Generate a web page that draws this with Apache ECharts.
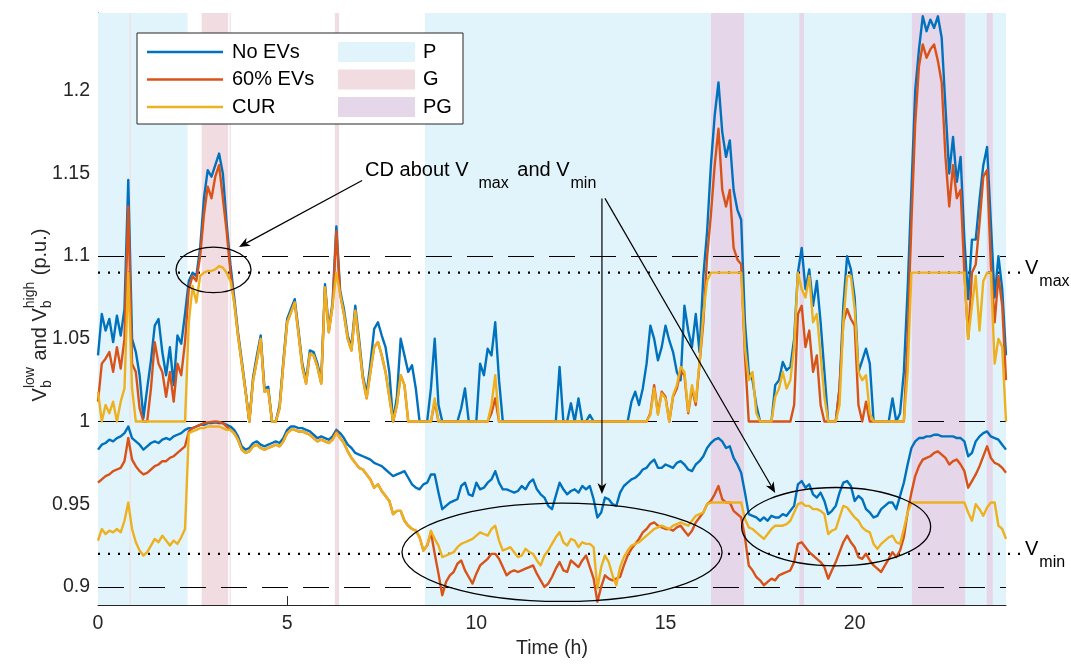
<!DOCTYPE html>
<html><head><meta charset="utf-8">
<script src="https://cdn.jsdelivr.net/npm/echarts@6/dist/echarts.min.js"></script>
<style>html,body{margin:0;padding:0;background:#fff}#c{width:1071px;height:664px}</style>
</head><body><div id="c"></div>
<script>
// ---------------- DATA ----------------
const hours = Array.from({length: 241}, (_, i) => i / 10); // 0..24 h, 0.1 h step
const seriesNames = ['No EVs', '60% EVs', 'CUR'];
const bandNames = ['P', 'G', 'PG'];
const xTicks = [0, 5, 10, 15, 20];
const yTicks = [0.9, 0.95, 1, 1.05, 1.1, 1.15, 1.2];
const dashedLimits = [0.9, 1.0, 1.1];
const vMax = 1.09, vMin = 0.92;
const bandsP = [[0, 2.37], [8.64, 16.2], [17.08, 24]];
const bandsG = [[0.835, 0.865], [2.74, 3.44], [3.48, 3.51], [6.26, 6.37]];
const bandsPG = [[16.2, 17.08], [18.54, 18.66], [21.51, 22.92], [23.49, 23.65]];

const noEVsHigh = [
1.04,1.065,1.055,1.062,1.048,1.064,1.052,1.068,1.146,1.05,
1.042,1.028,1.002,1.02,1.037,1.058,1.062,1.042,1.028,1.045,
1.022,1.052,1.047,1.065,1.085,1.09,1.088,1.105,1.135,1.152,
1.148,1.155,1.162,1.15,1.12,1.095,1.075,1.054,1.037,1.019,
1.0,1.027,1.04,1.052,1.02,1.021,1.0,1.0,1.01,1.037,
1.062,1.068,1.074,1.055,1.035,1.025,1.043,1.042,1.035,1.025,
1.083,1.056,1.072,1.118,1.079,1.068,1.052,1.045,1.07,1.05,
1.028,1.017,1.035,1.056,1.06,1.052,1.045,1.03,1.0,1.015,
1.05,1.04,1.03,1.034,1.02,1.0,1.0,1.0,1.02,1.05,
1.01,1.0,1.0,1.0,1.0,1.0,1.008,1.02,1.0,1.0,
1.0,1.035,1.028,1.044,1.04,1.06,1.025,1.0,1.0,1.0,
1.0,1.0,1.0,1.0,1.0,1.0,1.0,1.0,1.0,1.0,
1.0,1.0,1.033,1.0,1.0,1.011,1.0,1.014,1.0,1.0,
1.004,1.0,1.0,1.0,1.0,1.0,1.0,1.0,1.0,1.0,
1.0,1.012,1.018,1.01,1.02,1.035,1.058,1.05,1.037,1.045,
1.058,1.049,1.042,1.03,1.025,1.07,1.055,1.045,1.065,1.042,
1.088,1.115,1.155,1.185,1.205,1.175,1.16,1.17,1.14,1.128,
1.122,1.06,1.03,1.025,1.01,1.0,1.0,1.0,1.0,1.022,
1.025,1.036,1.031,1.033,1.05,1.09,1.105,1.08,1.092,1.07,
1.085,1.06,1.03,1.0,1.0,1.0,1.02,1.07,1.1,1.092,
1.075,1.03,1.037,1.044,1.035,1.0,1.0,1.0,1.0,1.0,
1.014,1.0,1.005,1.03,1.08,1.14,1.2,1.225,1.245,1.236,
1.243,1.238,1.245,1.232,1.19,1.15,1.172,1.145,1.16,1.11,
1.074,1.11,1.11,1.134,1.155,1.166,1.12,1.075,1.1,1.08,
1.04];

const ev60High = [
1.012,1.035,1.038,1.042,1.03,1.045,1.032,1.05,1.13,1.035,
1.03,1.008,1.0,1.0,1.02,1.048,1.035,1.03,1.015,1.03,
1.012,1.035,1.028,1.048,1.08,1.088,1.085,1.1,1.125,1.142,
1.135,1.148,1.155,1.135,1.115,1.09,1.072,1.052,1.035,1.018,
1.0,1.025,1.037,1.05,1.018,1.019,1.0,1.0,1.008,1.035,
1.06,1.066,1.072,1.053,1.033,1.023,1.041,1.04,1.033,1.023,
1.081,1.054,1.07,1.115,1.077,1.065,1.05,1.043,1.067,1.047,
1.026,1.014,1.03,1.045,1.048,1.04,1.03,1.015,1.0,1.01,
1.028,1.022,1.0,1.0,1.0,1.0,1.0,1.0,1.0,1.012,
1.0,1.0,1.0,1.0,1.0,1.0,1.0,1.0,1.0,1.0,
1.0,1.0,1.0,1.0,1.005,1.014,1.0,1.0,1.0,1.0,
1.0,1.0,1.0,1.0,1.0,1.0,1.0,1.0,1.0,1.0,
1.0,1.0,1.0,1.0,1.0,1.0,1.0,1.0,1.0,1.0,
1.0,1.0,1.0,1.0,1.0,1.0,1.0,1.0,1.0,1.0,
1.0,1.0,1.0,1.0,1.0,1.0,1.005,1.022,1.005,1.018,
1.015,1.0,1.015,1.02,1.03,1.028,1.005,1.02,1.01,1.035,
1.06,1.1,1.125,1.155,1.177,1.14,1.13,1.14,1.105,1.098,
1.095,1.04,1.0,1.0,1.0,1.0,1.0,1.0,1.0,1.0,
1.0,1.0,1.0,1.0,1.01,1.065,1.07,1.045,1.055,1.03,
1.04,1.01,1.0,1.0,1.0,1.0,1.02,1.06,1.068,1.062,
1.058,1.01,1.0,1.012,1.0,1.0,1.0,1.0,1.0,1.0,
1.0,1.0,1.0,1.0,1.05,1.12,1.18,1.215,1.228,1.22,
1.225,1.228,1.218,1.205,1.16,1.13,1.155,1.135,1.14,1.09,
1.05,1.09,1.095,1.12,1.148,1.152,1.095,1.06,1.088,1.07,
1.025];

const curHigh = [
1.018,1.0,1.01,1.005,1.012,1.0,1.012,1.02,1.09,1.02,
1.0,1.0,1.0,1.0,1.0,1.0,1.0,1.0,1.0,1.0,
1.0,1.0,1.0,1.0,1.06,1.082,1.072,1.088,1.09,1.091,
1.091,1.092,1.094,1.093,1.09,1.085,1.072,1.052,1.035,1.018,
1.0,1.025,1.037,1.05,1.018,1.019,1.0,1.0,1.008,1.035,
1.06,1.066,1.072,1.053,1.033,1.023,1.041,1.04,1.033,1.023,
1.081,1.054,1.07,1.09,1.077,1.065,1.05,1.043,1.067,1.047,
1.026,1.014,1.03,1.045,1.048,1.04,1.03,1.015,1.0,1.01,
1.028,1.022,1.0,1.0,1.0,1.0,1.0,1.0,1.0,1.014,
1.0,1.0,1.0,1.0,1.0,1.0,1.0,1.0,1.0,1.0,
1.0,1.0,1.0,1.0,1.01,1.028,1.0,1.0,1.0,1.0,
1.0,1.0,1.0,1.0,1.0,1.0,1.0,1.0,1.0,1.0,
1.0,1.0,1.0,1.0,1.0,1.0,1.0,1.0,1.0,1.0,
1.0,1.0,1.0,1.0,1.0,1.0,1.0,1.0,1.0,1.0,
1.0,1.0,1.0,1.0,1.0,1.0,1.004,1.02,1.004,1.017,
1.014,1.0,1.016,1.022,1.033,1.03,1.006,1.022,1.012,1.036,
1.065,1.085,1.09,1.09,1.09,1.09,1.09,1.09,1.09,1.09,
1.09,1.045,1.025,1.03,1.005,1.0,1.0,1.0,1.0,1.015,
1.02,1.03,1.02,1.025,1.045,1.09,1.08,1.075,1.088,1.06,
1.065,1.04,1.015,1.0,1.0,1.0,1.01,1.06,1.088,1.088,
1.068,1.03,1.025,1.028,1.005,1.0,1.0,1.0,1.0,1.0,
1.0,1.0,1.0,1.0,1.03,1.09,1.09,1.09,1.09,1.09,
1.09,1.09,1.09,1.09,1.09,1.09,1.09,1.09,1.09,1.09,
1.05,1.07,1.088,1.055,1.085,1.09,1.09,1.035,1.05,1.045,
1.0];

const noEVsLow = [
0.983,0.986,0.987,0.989,0.988,0.99,0.991,0.993,0.997,0.99,
0.988,0.986,0.983,0.985,0.987,0.988,0.987,0.989,0.99,0.989,
0.991,0.992,0.993,0.995,0.996,0.996,0.997,0.998,0.998,0.999,
0.999,0.9995,0.999,0.999,0.998,0.997,0.995,0.991,0.985,0.983,
0.984,0.987,0.988,0.986,0.985,0.986,0.987,0.988,0.987,0.99,
0.995,0.997,0.997,0.996,0.996,0.995,0.994,0.992,0.99,0.991,
0.99,0.989,0.991,0.995,0.993,0.99,0.986,0.984,0.981,0.98,
0.979,0.978,0.977,0.975,0.974,0.973,0.971,0.969,0.967,0.968,
0.969,0.97,0.966,0.962,0.96,0.959,0.962,0.963,0.968,0.968,
0.957,0.947,0.949,0.951,0.952,0.953,0.961,0.963,0.956,0.955,
0.963,0.959,0.96,0.963,0.965,0.97,0.963,0.959,0.959,0.958,
0.957,0.958,0.961,0.959,0.963,0.965,0.959,0.956,0.954,0.949,
0.947,0.955,0.963,0.959,0.956,0.958,0.959,0.957,0.961,0.959,
0.961,0.953,0.942,0.945,0.954,0.953,0.95,0.949,0.957,0.961,
0.963,0.965,0.966,0.968,0.971,0.972,0.975,0.977,0.972,0.972,
0.974,0.973,0.972,0.975,0.976,0.974,0.971,0.97,0.974,0.976,
0.979,0.984,0.987,0.989,0.99,0.988,0.984,0.985,0.978,0.974,
0.969,0.957,0.944,0.943,0.942,0.94,0.942,0.94,0.943,0.942,
0.942,0.944,0.943,0.946,0.949,0.962,0.964,0.96,0.962,0.956,
0.954,0.957,0.952,0.944,0.946,0.949,0.957,0.963,0.964,0.961,
0.952,0.955,0.953,0.947,0.945,0.942,0.943,0.947,0.949,0.951,
0.951,0.947,0.955,0.963,0.974,0.984,0.988,0.99,0.99,0.991,
0.991,0.992,0.992,0.991,0.991,0.991,0.991,0.99,0.99,0.988,
0.979,0.981,0.988,0.991,0.993,0.994,0.991,0.99,0.989,0.986,
0.983];

const ev60Low = [
0.963,0.965,0.967,0.968,0.97,0.971,0.972,0.976,0.99,0.977,
0.973,0.97,0.968,0.969,0.971,0.973,0.974,0.976,0.976,0.978,
0.979,0.981,0.983,0.985,0.994,0.996,0.997,0.998,0.999,0.9995,
0.9998,1.0,0.9998,0.999,0.997,0.995,0.993,0.989,0.983,0.981,
0.982,0.985,0.986,0.984,0.983,0.984,0.985,0.986,0.985,0.988,
0.993,0.995,0.995,0.994,0.994,0.993,0.992,0.99,0.988,0.989,
0.988,0.987,0.989,0.994,0.99,0.987,0.982,0.978,0.975,0.972,
0.971,0.968,0.965,0.96,0.962,0.958,0.955,0.952,0.944,0.946,
0.946,0.94,0.937,0.935,0.934,0.93,0.922,0.925,0.933,0.92,
0.908,0.895,0.903,0.907,0.909,0.914,0.916,0.91,0.906,0.902,
0.908,0.913,0.915,0.917,0.92,0.92,0.917,0.912,0.907,0.909,
0.91,0.909,0.91,0.911,0.912,0.913,0.908,0.904,0.9,0.902,
0.906,0.911,0.915,0.91,0.909,0.916,0.914,0.912,0.916,0.919,
0.912,0.905,0.891,0.9,0.907,0.905,0.904,0.905,0.906,0.913,
0.919,0.923,0.926,0.929,0.933,0.935,0.938,0.939,0.937,0.936,
0.935,0.935,0.934,0.936,0.937,0.934,0.931,0.934,0.939,0.942,
0.945,0.95,0.952,0.956,0.961,0.953,0.951,0.951,0.946,0.944,
0.942,0.93,0.913,0.91,0.906,0.904,0.901,0.903,0.905,0.904,
0.907,0.908,0.909,0.91,0.915,0.926,0.927,0.924,0.921,0.919,
0.917,0.915,0.912,0.905,0.91,0.915,0.921,0.927,0.931,0.927,
0.924,0.918,0.917,0.92,0.916,0.913,0.911,0.909,0.913,0.917,
0.921,0.918,0.922,0.93,0.945,0.957,0.967,0.973,0.977,0.978,
0.979,0.981,0.982,0.98,0.978,0.974,0.976,0.977,0.974,0.97,
0.96,0.964,0.968,0.973,0.979,0.985,0.978,0.975,0.974,0.972,
0.969];

const curLow = [
0.928,0.935,0.932,0.934,0.933,0.935,0.933,0.94,0.951,0.935,
0.927,0.922,0.919,0.921,0.925,0.929,0.927,0.931,0.928,0.925,
0.928,0.926,0.93,0.935,0.993,0.994,0.995,0.996,0.996,0.997,
0.997,0.997,0.997,0.996,0.995,0.995,0.993,0.989,0.983,0.981,
0.982,0.985,0.986,0.984,0.983,0.984,0.985,0.986,0.985,0.988,
0.993,0.995,0.995,0.994,0.994,0.993,0.992,0.99,0.988,0.989,
0.988,0.987,0.989,0.993,0.99,0.987,0.982,0.978,0.975,0.972,
0.971,0.968,0.965,0.96,0.962,0.958,0.955,0.952,0.944,0.946,
0.946,0.94,0.937,0.935,0.934,0.93,0.922,0.925,0.934,0.929,
0.925,0.918,0.919,0.92,0.921,0.924,0.926,0.927,0.928,0.929,
0.931,0.933,0.932,0.931,0.935,0.937,0.928,0.922,0.923,0.924,
0.921,0.918,0.919,0.923,0.921,0.92,0.916,0.913,0.919,0.922,
0.926,0.93,0.933,0.927,0.925,0.929,0.928,0.924,0.927,0.926,
0.926,0.924,0.899,0.912,0.919,0.915,0.907,0.901,0.912,0.918,
0.922,0.925,0.926,0.927,0.929,0.931,0.933,0.935,0.936,0.937,
0.936,0.935,0.937,0.938,0.939,0.938,0.937,0.94,0.943,0.944,
0.945,0.95,0.951,0.951,0.951,0.951,0.951,0.951,0.951,0.951,
0.951,0.941,0.936,0.935,0.933,0.931,0.929,0.932,0.935,0.937,
0.937,0.937,0.938,0.94,0.945,0.95,0.951,0.949,0.949,0.947,
0.947,0.946,0.944,0.932,0.934,0.935,0.942,0.949,0.948,0.945,
0.942,0.94,0.936,0.934,0.933,0.926,0.923,0.926,0.928,0.93,
0.931,0.927,0.926,0.935,0.945,0.951,0.951,0.951,0.951,0.951,
0.951,0.951,0.951,0.951,0.951,0.951,0.951,0.951,0.951,0.951,
0.945,0.94,0.95,0.947,0.943,0.948,0.951,0.951,0.937,0.935,
0.929];

// ---------------- STYLE ----------------
const FONT = '"Liberation Sans", Arial, Helvetica, sans-serif';
const AX = '#262626';
const BLUE = '#0072BD', ORANGE = '#D95319', YELLOW = '#EDB120';
const BAND_COL = {P: '#E2F4FB', G: '#F1DDE1', PG: '#E5D6E9'};
const FS = 19.5;
const LW = 2.4;

const chart = echarts.init(document.getElementById('c'), null, {renderer: 'canvas'});
const pairs = arr => hours.map((h, i) => [h, arr[i]]);

function bandSeries(name, bands) {
  return {
    type: 'line', name, data: [], z: 0, silent: true,
    markArea: {
      silent: true, label: {show: false},
      itemStyle: {color: BAND_COL[name], opacity: 1, borderWidth: 0},
      data: bands.map(b => [{xAxis: b[0]}, {xAxis: b[1]}])
    }
  };
}
function lineSeries(name, arr, color, z) {
  return {
    type: 'line', name, data: pairs(arr), z, showSymbol: false, symbol: 'none',
    silent: true, clip: true,
    lineStyle: {color, width: LW, join: 'round'}, itemStyle: {color}
  };
}

const option = {
  animation: false,
  backgroundColor: '#fff',
  grid: {left: 98, right: 65, top: 13, bottom: 54, containLabel: false},
  xAxis: {
    type: 'value', min: 0, max: 24,
    axisLine: {show: true, onZero: false, lineStyle: {color: AX, width: 1}},
    axisTick: {show: true, inside: true, length: 9, lineStyle: {color: AX}, customValues: xTicks},
    axisLabel: {customValues: xTicks, color: AX, fontSize: FS, fontFamily: FONT, margin: 9},
    splitLine: {show: false},
    name: 'Time (h)', nameLocation: 'middle', nameGap: 32,
    nameTextStyle: {color: AX, fontSize: FS, fontFamily: FONT}
  },
  yAxis: {
    type: 'value', min: 0.889, max: 1.247,
    axisLine: {show: true, lineStyle: {color: AX, width: 1}},
    axisTick: {show: true, inside: true, length: 9, lineStyle: {color: AX}, customValues: yTicks},
    axisLabel: {customValues: yTicks, color: AX, fontSize: FS, fontFamily: FONT, margin: 8,
      formatter: v => String(+(+v).toFixed(2))},
    splitLine: {show: false}
  },
  series: [
    bandSeries('P', bandsP),
    bandSeries('G', bandsG),
    bandSeries('PG', bandsPG),
    {
      type: 'line', data: [], z: 1, silent: true,
      markLine: {
        silent: true, symbol: ['none', 'none'], label: {show: false},
        lineStyle: {color: '#000', width: 1.2, type: [26, 15]},
        emphasis: {disabled: true},
        data: dashedLimits.map(v => ({yAxis: v}))
      }
    },
    lineSeries(seriesNames[0], noEVsHigh, BLUE, 5),
    lineSeries(seriesNames[0] + ' low', noEVsLow, BLUE, 5),
    lineSeries(seriesNames[1], ev60High, ORANGE, 6),
    lineSeries(seriesNames[1] + ' low', ev60Low, ORANGE, 6),
    lineSeries(seriesNames[2], curHigh, YELLOW, 7),
    lineSeries(seriesNames[2] + ' low', curLow, YELLOW, 7)
  ]
};
chart.setOption(option);

// ---------------- ANNOTATIONS (data coordinates) ----------------
const annotEllipses = [[3.053, 1.0917, 0.991, 0.0138], [12.265, 0.9209, 4.23, 0.0297], [19.51, 0.9364, 2.498, 0.0237]];
const annotArrows = [[[6.98, 1.1457], [3.727, 1.1055]], [[13.32, 1.1349], [13.32, 0.9562]], [[13.40, 1.1349], [17.90, 0.9568]]];
const annotTextAt = [7.06, 1.1517];

const mctx = document.createElement('canvas').getContext('2d');
function tw(t, s) { mctx.font = s + 'px ' + FONT; return mctx.measureText(t).width; }
function px(h, v) { return chart.convertToPixel({gridIndex: 0}, [h, v]); }
function txt(text, x, y, size, z) {
  return {type: 'text', x, y, z: z || 10, silent: true,
    style: {text, font: size + 'px ' + FONT, fill: '#000', align: 'left', verticalAlign: 'middle',
      textAlign: 'left', textVerticalAlign: 'middle'}};
}
// Compose text pieces; a piece with stack:true shares its x with the next piece
function compose(pieces, x0, y0) {
  const out = []; let x = x0;
  for (let i = 0; i < pieces.length; i++) {
    const p = pieces[i];
    x += (p.gap || 0);
    out.push(txt(p.t, x, y0 + (p.dy || 0), p.s));
    if (p.stack) {
      const q = pieces[++i];
      out.push(txt(q.t, x, y0 + (q.dy || 0), q.s));
      x += Math.max(tw(p.t, p.s), tw(q.t, q.s)) + 1;
    } else {
      x += tw(p.t, p.s);
    }
  }
  return {els: out, width: x - x0};
}

const G = [];
// dotted limit lines (extend slightly beyond the plot)
[vMax, vMin].forEach(v => {
  const p = px(0, v);
  G.push({type: 'line', z: 4, silent: true,
    shape: {x1: p[0], y1: p[1], x2: 1021, y2: p[1]},
    style: {stroke: '#000', lineWidth: 2.2, lineDash: [2, 8]}});
});
// V_max / V_min labels
[[vMax, 'max'], [vMin, 'min']].forEach(([v, s]) => {
  const p = px(0, v);
  const c = compose([{t: 'V', s: 20, dy: -4}, {t: s, s: 16, dy: 9, gap: 1}], 1025, p[1]);
  G.push(...c.els);
});
// ellipses
annotEllipses.forEach(e => {
  const c = px(e[0], e[1]), r = px(e[0] + e[2], e[1] + e[3]);
  G.push({type: 'ellipse', z: 10, silent: true,
    shape: {cx: c[0], cy: c[1], rx: Math.abs(r[0] - c[0]), ry: Math.abs(c[1] - r[1])},
    style: {fill: 'none', stroke: '#000', lineWidth: 1.3}});
});
// arrows
annotArrows.forEach(a => {
  const p0 = px(a[0][0], a[0][1]), p1 = px(a[1][0], a[1][1]);
  const dx = p1[0] - p0[0], dy = p1[1] - p0[1], L = Math.hypot(dx, dy);
  const ux = dx / L, uy = dy / L, nx = -uy, ny = ux, hl = 11, hw = 4.5;
  const bx = p1[0] - ux * hl, by = p1[1] - uy * hl;
  const ncx = p1[0] - ux * hl * 0.7, ncy = p1[1] - uy * hl * 0.7;
  G.push({type: 'line', z: 10, silent: true, shape: {x1: p0[0], y1: p0[1], x2: ncx, y2: ncy},
    style: {stroke: '#000', lineWidth: 1.2}});
  G.push({type: 'polygon', z: 10, silent: true,
    shape: {points: [[p1[0], p1[1]], [bx + nx * hw, by + ny * hw], [ncx, ncy], [bx - nx * hw, by - ny * hw]]},
    style: {fill: '#000'}});
});
// "CD about Vmax and Vmin"
{
  const p = px(annotTextAt[0], annotTextAt[1]);
  const c = compose([{t: 'CD about V', s: 20}, {t: 'max', s: 16, dy: 12.5, gap: 10},
    {t: ' and V', s: 20, gap: 3}, {t: 'min', s: 16, dy: 12.5, gap: 1}], p[0], p[1]);
  G.push(...c.els);
}
// Y axis label (rotated)
{
  const pieces = [{t: 'V', s: 20}, {t: 'low', s: 14, dy: -10, stack: true}, {t: 'b', s: 14, dy: 7},
    {t: ' and V', s: 20}, {t: 'high', s: 14, dy: -10, stack: true}, {t: 'b', s: 14, dy: 7},
    {t: ' (p.u.)', s: 20}];
  const c = compose(pieces, 0, 0);
  c.els.forEach(e => { e.style.fill = AX; });
  G.push({type: 'group', x: 40, y: 315 + c.width / 2, rotation: Math.PI / 2, z: 10, children: c.els});
}
// Legend (two columns)
{
  const bx = 137, by = 33, bw = 326, bh = 91, rows = [52, 79.5, 107];
  G.push({type: 'rect', z: 9, silent: true, shape: {x: bx, y: by, width: bw, height: bh},
    style: {fill: '#fff', stroke: AX, lineWidth: 1}});
  const cols = [BLUE, ORANGE, YELLOW];
  seriesNames.forEach((n, i) => {
    G.push({type: 'line', z: 10, silent: true, shape: {x1: 147, y1: rows[i], x2: 223, y2: rows[i]},
      style: {stroke: cols[i], lineWidth: LW}});
    G.push(txt(n, 232, rows[i], 20));
  });
  bandNames.forEach((n, i) => {
    G.push({type: 'rect', z: 10, silent: true, shape: {x: 338, y: rows[i] - 10, width: 77, height: 20},
      style: {fill: BAND_COL[n]}});
    G.push(txt(n, 423, rows[i], 20));
  });
}
chart.setOption({graphic: {elements: G}});
</script>
</body></html>
